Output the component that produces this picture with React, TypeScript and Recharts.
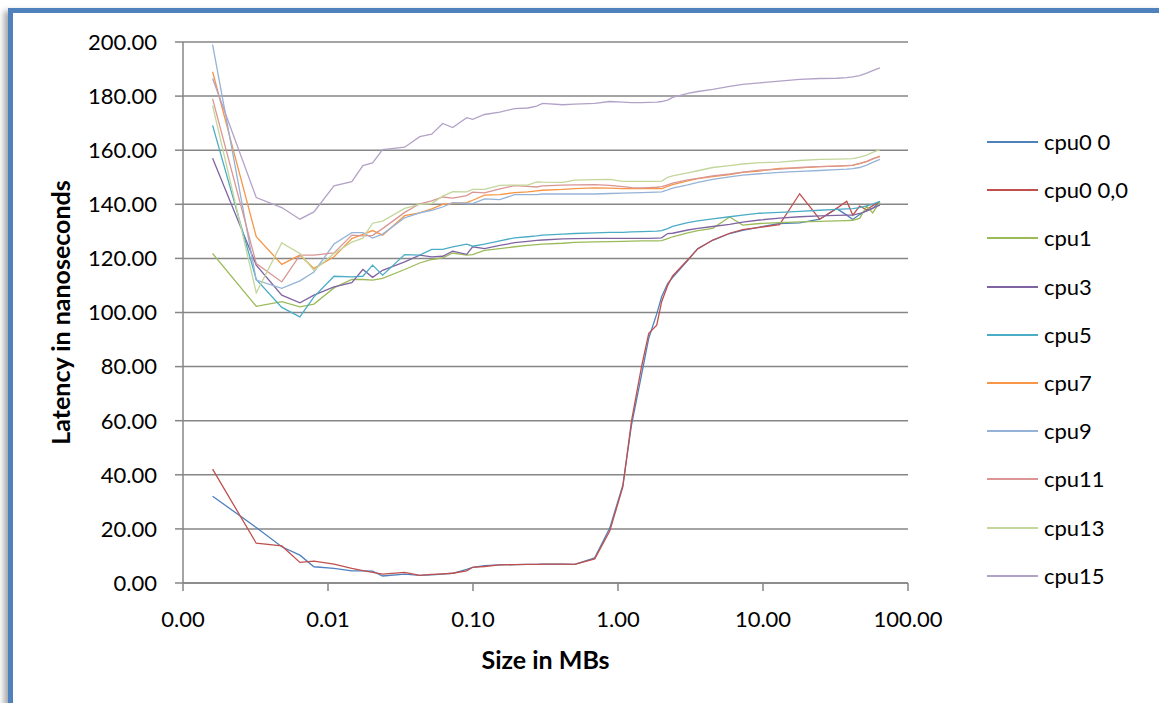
import React from 'react';
import { LineChart, Line, XAxis, YAxis, CartesianGrid, Legend, Label } from 'recharts';

// Size in MBs (x, log axis)
const sizes = [0.0016, 0.0032, 0.0048, 0.0064, 0.008, 0.011, 0.0146, 0.0174, 0.0203, 0.0238, 0.0338, 0.0429, 0.0519, 0.0618, 0.0724, 0.0905, 0.0995, 0.12, 0.153, 0.194, 0.238, 0.275, 0.302, 0.416, 0.503, 0.691, 0.877, 1.08, 1.24, 1.46, 1.63, 1.85, 2.0, 2.2, 2.38, 3.03, 3.55, 4.5, 5.89, 7.24, 9.49, 13.0, 17.9, 24.6, 32.2, 37.8, 41.6, 46.4, 51.9, 57.1, 64.0];

const cpu0_0 = [32.1, 20.5, 13.4, 10.3, 6.0, 5.4, 4.5, 4.5, 4.4, 2.6, 3.3, 2.8, 3.0, 3.3, 3.6, 5.0, 5.8, 6.4, 6.7, 6.8, 6.9, 6.9, 7.0, 7.0, 6.9, 9.3, 20.3, 36.2, 58.5, 77.5, 90.5, 99.5, 105.8, 110.7, 112.9, 119.3, 123.7, 126.7, 129.2, 130.4, 131.6, 132.9, 133.1, 134.5, 138.4, 136.0, 134.4, 136.2, 137.8, 138.5, 140.9];
const cpu0_00 = [42.1, 14.7, 13.7, 7.6, 8.1, 7.0, 5.4, 4.6, 3.9, 3.3, 3.9, 2.8, 3.2, 3.4, 3.6, 4.5, 5.8, 6.1, 6.7, 6.8, 6.9, 6.9, 7.0, 7.0, 6.9, 8.9, 19.2, 35.5, 60.0, 80.5, 92.3, 95.3, 104.0, 110.0, 113.5, 119.5, 123.5, 126.8, 129.3, 130.6, 131.5, 132.5, 143.9, 134.5, 138.5, 141.1, 136.0, 139.3, 138.0, 139.5, 140.9];
const cpu1 = [121.8, 102.3, 104.0, 102.1, 103.1, 109.1, 112.2, 112.2, 112.0, 112.6, 115.9, 118.3, 119.6, 120.2, 122.0, 121.2, 121.4, 123.0, 123.6, 124.3, 124.8, 125.1, 125.3, 125.6, 125.9, 126.1, 126.2, 126.3, 126.4, 126.5, 126.5, 126.5, 126.6, 127.3, 128.0, 129.4, 130.3, 131.1, 135.3, 132.3, 132.9, 133.2, 133.5, 133.7, 133.9, 134.0, 134.1, 134.8, 139.3, 136.8, 140.9];
const cpu3 = [157.0, 117.5, 106.4, 103.6, 106.4, 109.5, 111.0, 115.9, 113.0, 115.6, 118.7, 121.2, 120.6, 120.8, 122.7, 121.5, 124.3, 123.6, 124.8, 125.8, 126.3, 126.7, 126.8, 127.2, 127.3, 127.4, 127.4, 127.4, 127.4, 127.4, 127.4, 127.5, 127.6, 129.2, 129.3, 130.5, 131.1, 131.8, 132.6, 133.4, 134.2, 134.9, 135.4, 135.7, 135.9, 136.0, 136.0, 136.6, 137.5, 138.6, 139.7];
const cpu5 = [169.2, 112.2, 101.9, 98.4, 105.8, 113.4, 113.2, 113.4, 117.5, 113.8, 121.4, 121.2, 123.3, 123.3, 124.3, 125.3, 124.5, 125.3, 126.5, 127.6, 128.0, 128.3, 128.6, 129.0, 129.2, 129.4, 129.6, 129.6, 129.8, 129.9, 130.0, 130.1, 130.3, 131.0, 131.8, 133.2, 133.9, 134.6, 135.4, 136.0, 136.7, 137.0, 137.4, 137.8, 138.1, 138.3, 138.4, 138.8, 139.4, 140.1, 141.1];
const cpu7 = [189.0, 128.0, 117.8, 121.2, 116.3, 120.6, 127.3, 128.9, 130.3, 128.6, 135.8, 136.8, 138.3, 140.0, 140.3, 140.6, 141.5, 143.4, 143.6, 144.3, 144.6, 145.0, 145.2, 145.5, 145.8, 146.1, 146.0, 145.8, 145.8, 145.8, 145.8, 145.8, 145.8, 146.6, 147.3, 148.7, 149.5, 150.2, 151.0, 151.8, 152.3, 153.3, 153.5, 153.9, 154.1, 154.3, 154.4, 155.0, 155.8, 156.8, 157.8];
const cpu9 = [199.0, 112.0, 108.9, 111.7, 115.0, 125.3, 129.5, 129.5, 127.5, 129.0, 135.0, 136.8, 137.8, 139.0, 140.6, 140.3, 140.3, 142.0, 141.7, 143.6, 143.6, 143.6, 143.8, 143.8, 143.8, 143.8, 144.0, 144.1, 144.2, 144.3, 144.4, 144.5, 144.6, 145.3, 146.0, 147.2, 148.1, 149.2, 150.1, 150.8, 151.3, 151.8, 152.2, 152.5, 152.8, 153.0, 153.2, 153.6, 154.5, 155.5, 156.6];
const cpu11 = [179.0, 118.1, 111.3, 121.2, 121.2, 122.0, 128.6, 128.3, 128.5, 131.0, 137.0, 140.2, 141.3, 142.7, 142.3, 143.2, 144.5, 144.2, 145.7, 146.9, 146.6, 146.4, 146.8, 147.1, 147.2, 147.3, 147.0, 146.5, 146.2, 146.1, 146.2, 146.3, 146.5, 147.2, 147.8, 149.0, 149.6, 150.5, 151.2, 151.9, 152.6, 153.0, 153.6, 153.9, 154.1, 154.3, 154.5, 155.1, 155.9, 156.8, 157.6];
const cpu13 = [176.5, 107.3, 125.7, 121.8, 115.6, 121.8, 126.0, 127.5, 133.0, 133.8, 138.5, 140.0, 140.3, 143.0, 144.7, 144.6, 145.5, 145.5, 147.0, 147.1, 147.1, 148.3, 148.2, 148.1, 148.9, 149.1, 149.2, 148.5, 148.5, 148.5, 148.5, 148.5, 148.6, 150.0, 150.5, 151.6, 152.4, 153.6, 154.3, 154.9, 155.4, 155.6, 156.2, 156.6, 156.7, 156.8, 156.9, 157.4, 158.2, 159.2, 160.2];
const cpu15 = [186.5, 142.5, 138.8, 134.5, 137.2, 146.8, 148.4, 154.3, 155.3, 160.2, 161.1, 165.0, 165.9, 169.9, 168.4, 172.0, 171.4, 173.2, 174.1, 175.4, 175.6, 176.3, 177.3, 176.8, 177.0, 177.3, 178.0, 177.8, 177.6, 177.6, 177.7, 177.8, 178.0, 178.5, 179.5, 181.0, 181.7, 182.5, 183.6, 184.3, 184.9, 185.5, 186.2, 186.5, 186.6, 186.8, 187.1, 187.6, 188.5, 189.4, 190.4];

const seriesNames = ['cpu0 0', 'cpu0 0,0', 'cpu1', 'cpu3', 'cpu5', 'cpu7', 'cpu9', 'cpu11', 'cpu13', 'cpu15'];
const seriesValues = [cpu0_0, cpu0_00, cpu1, cpu3, cpu5, cpu7, cpu9, cpu11, cpu13, cpu15];
const seriesColors = ['#4F81BD', '#C0504D', '#9BBB59', '#8064A2', '#4BACC6', '#F79646', '#95B3D7', '#D99694', '#C3D69B', '#B3A2C7'];

const xTicks = [0.001, 0.01, 0.1, 1, 10, 100];
const yTicks = [0, 20, 40, 60, 80, 100, 120, 140, 160, 180, 200];

const data = sizes.map((size, i) => {
  const row: Record<string, number> = { size };
  seriesValues.forEach((vals, k) => {
    row['s' + k] = vals[i];
  });
  return row;
});

const FONT = 'Lato, "Open Sans", sans-serif';
const AXIS = '#868686';

const renderLegend = (props: any) => {
  const payload = [...(props.payload || [])].sort(
    (a: any, b: any) => seriesNames.indexOf(a.value) - seriesNames.indexOf(b.value)
  );
  return (
    <div style={{ fontFamily: FONT }}>
      {payload.map((entry: any, i: number) => (
        <div key={i} style={{ display: 'flex', alignItems: 'center', height: 48.2 }}>
          <div style={{ width: 51, height: 0, borderTop: `2px solid ${entry.color}` }} />
          <span style={{ marginLeft: 6, fontSize: 22, color: '#000', lineHeight: '24px', whiteSpace: 'nowrap' }}>
            {entry.value}
          </span>
        </div>
      ))}
    </div>
  );
};

const YTitle = (props: any) => {
  const vb = props.viewBox || { x: 0, y: 0, width: 0, height: 0 };
  const cx = vb.x + 62;
  const cy = vb.y + vb.height / 2;
  return (
    <text
      x={cx}
      y={cy}
      transform={`rotate(-90, ${cx}, ${cy})`}
      textAnchor="middle"
      fontFamily={FONT}
      fontWeight="bold"
      fontSize={25}
      fill="#000"
    >
      Latency in nanoseconds
    </text>
  );
};

const XTitle = (props: any) => {
  const vb = props.viewBox || { x: 0, y: 0, width: 0, height: 0 };
  return (
    <text
      x={vb.x + vb.width / 2}
      y={vb.y + 86}
      textAnchor="middle"
      fontFamily={FONT}
      fontWeight="bold"
      fontSize={25}
      fill="#000"
    >
      Size in MBs
    </text>
  );
};

export default function App() {
  return (
    <div style={{ position: 'fixed', left: 0, top: 0, right: 0, bottom: 0, overflow: 'hidden', background: '#fff', fontFamily: FONT }}>
      <div
        style={{
          position: 'absolute',
          left: 8,
          top: 8,
          width: 1220,
          height: 760,
          boxSizing: 'border-box',
          border: '5px solid #4F81BD',
          boxShadow: '-4px 3px 6px rgba(0,0,0,0.35)',
          background: '#fff',
        }}
      />
      <div style={{ position: 'absolute', left: 8, top: 8 }}>
        <LineChart width={1143} height={690} data={data} margin={{ top: 34, right: 60, bottom: 85, left: 0 }}>
          <CartesianGrid vertical={false} stroke={AXIS} strokeWidth={1.5} />
          <XAxis
            dataKey="size"
            type="number"
            scale="log"
            domain={[0.001, 100]}
            ticks={xTicks}
            allowDataOverflow
            tickFormatter={(v: number) => v.toFixed(2)}
            tickSize={8}
            tickMargin={20}
            height={30}
            axisLine={{ stroke: AXIS, strokeWidth: 1.5 }}
            tickLine={{ stroke: AXIS, strokeWidth: 1.5 }}
            tick={{ fill: '#000', fontSize: 22, fontFamily: FONT }}
            interval={0}
          >
            <Label content={XTitle} />
          </XAxis>
          <YAxis
            type="number"
            domain={[0, 200]}
            ticks={yTicks}
            allowDataOverflow
            tickFormatter={(v: number) => v.toFixed(2)}
            width={175}
            tickSize={8}
            tickMargin={18}
            axisLine={{ stroke: AXIS, strokeWidth: 1.5 }}
            tickLine={{ stroke: AXIS, strokeWidth: 1.5 }}
            tick={{ fill: '#000', fontSize: 22, fontFamily: FONT }}
            interval={0}
          >
            <Label content={YTitle} />
          </YAxis>
          <Legend
            layout="vertical"
            align="right"
            verticalAlign="top"
            itemSorter={null as any}
            content={renderLegend}
            wrapperStyle={{ left: 979, top: 110, width: 183 }}
          />
          {seriesNames.map((name, k) => (
            <Line
              key={name}
              type="linear"
              dataKey={'s' + k}
              name={name}
              stroke={seriesColors[k]}
              strokeWidth={1.3}
              dot={false}
              activeDot={false}
              isAnimationActive={false}
            />
          ))}
        </LineChart>
      </div>
    </div>
  );
}
